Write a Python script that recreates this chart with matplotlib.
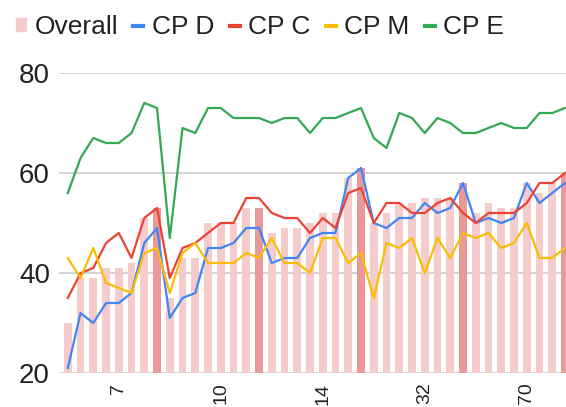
import matplotlib
matplotlib.use('Agg')
import matplotlib.pyplot as plt
from matplotlib.patches import Patch
from matplotlib.lines import Line2D

plt.rcParams['font.family'] = ['Liberation Sans', 'DejaVu Sans']

# values (40 categories)
overall = [30, 39, 39, 41, 41, 42, 51, 53, 35, 43,
           43, 50, 50, 50, 53, 53, 48, 49, 49, 50,
           52, 52, 59, 61, 50, 52, 54, 54, 55, 55,
           55, 58, 52, 54, 53, 53, 58, 56, 58, 60]
cp_d = [21, 32, 30, 34, 34, 36, 46, 49, 31, 35,
        36, 45, 45, 46, 49, 49, 42, 43, 43, 47,
        48, 48, 59, 61, 50, 49, 51, 51, 54, 52,
        53, 58, 50, 51, 50, 51, 58, 54, 56, 58]
cp_c = [35, 40, 41, 46, 48, 43, 51, 53, 39, 45,
        46, 48, 50, 50, 55, 55, 52, 51, 51, 48,
        51, 49, 56, 57, 50, 54, 54, 52, 52, 54,
        55, 52, 50, 52, 52, 52, 54, 58, 58, 60]
cp_m = [43, 39, 45, 38, 37, 36, 44, 45, 36, 44,
        46, 42, 42, 42, 44, 43, 47, 42, 42, 40,
        47, 47, 42, 44, 35, 46, 45, 47, 40, 47,
        43, 48, 47, 48, 45, 46, 50, 43, 43, 45]
cp_e = [56, 63, 67, 66, 66, 68, 74, 73, 47, 69,
        68, 73, 73, 71, 71, 71, 70, 71, 71, 68,
        71, 71, 72, 73, 67, 65, 72, 71, 68, 71,
        70, 68, 68, 69, 70, 69, 69, 72, 72, 73]
highlight = [7, 15, 23, 31, 39]  # darker bars
tick_pos = [4, 12, 20, 28, 36]
tick_labels = ['7', '10', '14', '32', '70']

x = list(range(len(overall)))
bar_colors = ['#ea9999' if i in highlight else '#f4cccc' for i in x]

fig = plt.figure(figsize=(5.66, 4.07), dpi=100)
ax = fig.add_axes([59/566, 1-373/407, 1-59/566, 300/407])

ax.bar(x, overall, width=0.6, color=bar_colors, zorder=1)
ax.plot(x, cp_d, color='#4285f4', lw=1.6, zorder=3)
ax.plot(x, cp_c, color='#ea4335', lw=1.6, zorder=3)
ax.plot(x, cp_m, color='#fbbc04', lw=1.6, zorder=3)
ax.plot(x, cp_e, color='#34a853', lw=1.6, zorder=3)

ax.set_ylim(20, 80)
ax.set_xlim(-0.69, 39.08)
ax.set_yticks([20, 40, 60, 80])
ax.set_xticks(tick_pos)
ax.set_xticklabels(tick_labels, rotation=90)
ax.grid(axis='y', color='#cccccc', lw=1.2)
ax.set_axisbelow(True)
for s in ax.spines.values():
    s.set_visible(False)
ax.tick_params(axis='y', length=0, labelsize=20, pad=6.5, labelcolor='#222222')
ax.tick_params(axis='x', length=0, labelsize=14, pad=7, labelcolor='#222222')

handles = [Patch(color='#f4cccc'),
           Line2D([], [], color='#4285f4', lw=3),
           Line2D([], [], color='#ea4335', lw=3),
           Line2D([], [], color='#fbbc04', lw=3),
           Line2D([], [], color='#34a853', lw=3)]
labels = ['Overall', 'CP D', 'CP C', 'CP M', 'CP E']
leg = fig.legend(handles, labels, loc='center left', bbox_to_anchor=(16/566, 1-27/407),
                 ncol=5, frameon=False, fontsize=19, handlelength=0.38, handleheight=0.38,
                 handletextpad=0.32, columnspacing=0.58, borderaxespad=0, borderpad=0)
for t in leg.get_texts():
    t.set_color('#222222')

fig.savefig('out.png', dpi=100)
